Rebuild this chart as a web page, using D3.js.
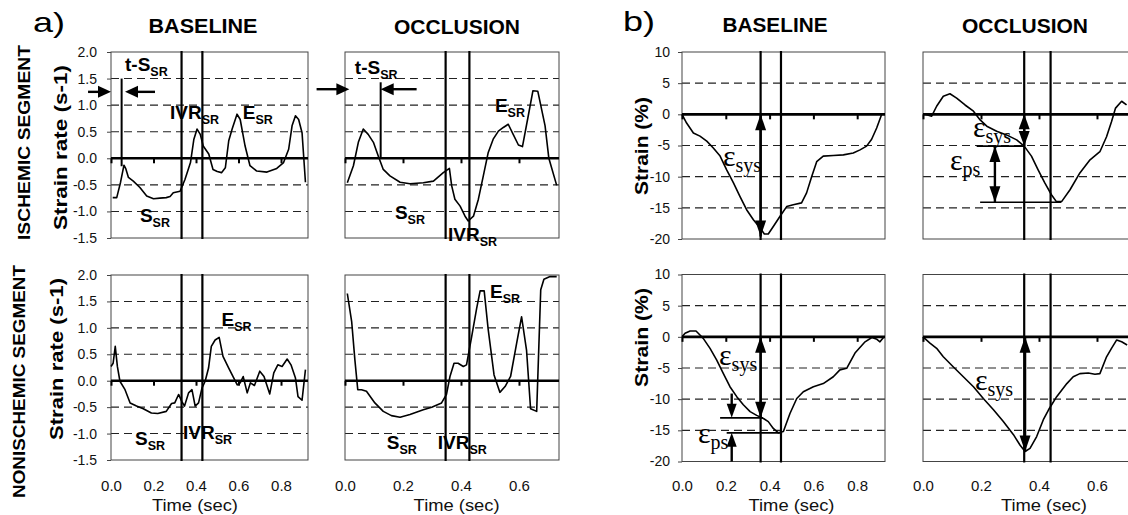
<!DOCTYPE html>
<html>
<head>
<meta charset="utf-8">
<script src="https://cdn.jsdelivr.net/npm/d3@7"></script>
<style>
  body { margin: 0; background: #fff; }
  svg { display: block; font-family: "Liberation Sans", Arial, sans-serif; }
</style>
</head>
<body>
<svg id="fig" width="1128" height="515"></svg>
<script>
// ---- data: [time (s), value] ----
// a) strain rate (s-1)
const aIschBase = [[0.008,-0.74],[0.027,-0.74],[0.045,-0.45],[0.061,-0.13],[0.07,-0.2],[0.082,-0.36],[0.105,-0.43],[0.136,-0.55],[0.168,-0.71],[0.2,-0.76],[0.23,-0.75],[0.26,-0.74],[0.278,-0.72],[0.293,-0.65],[0.325,-0.62],[0.348,-0.40],[0.374,-0.08],[0.39,0.36],[0.405,0.55],[0.42,0.45],[0.434,0.23],[0.46,0.08],[0.48,-0.21],[0.5,-0.25],[0.52,-0.27],[0.538,-0.18],[0.554,0.33],[0.57,0.55],[0.593,0.83],[0.608,0.73],[0.631,0.23],[0.654,-0.14],[0.686,-0.24],[0.734,-0.26],[0.78,-0.19],[0.812,-0.08],[0.836,0.17],[0.852,0.61],[0.868,0.8],[0.883,0.73],[0.899,0.48],[0.915,-0.45]];
const aIschOccl = [[0.008,-0.46],[0.029,-0.14],[0.046,0.30],[0.063,0.55],[0.08,0.45],[0.098,0.30],[0.115,0.04],[0.132,-0.21],[0.155,-0.33],[0.19,-0.45],[0.224,-0.48],[0.27,-0.46],[0.305,-0.43],[0.339,-0.27],[0.36,-0.19],[0.368,-0.52],[0.379,-0.77],[0.397,-0.9],[0.414,-1.09],[0.425,-1.18],[0.443,-1.09],[0.46,-0.77],[0.477,-0.33],[0.494,0.11],[0.511,0.36],[0.529,0.51],[0.546,0.58],[0.563,0.64],[0.58,0.45],[0.598,0.25],[0.612,0.22],[0.632,0.80],[0.648,1.27],[0.665,1.26],[0.69,0.61],[0.703,0.0],[0.73,-0.51]];
const aNonBase = [[0,0.27],[0.01,0.33],[0.02,0.65],[0.03,0.27],[0.042,-0.01],[0.066,-0.17],[0.09,-0.42],[0.12,-0.48],[0.152,-0.53],[0.19,-0.61],[0.22,-0.62],[0.26,-0.58],[0.285,-0.43],[0.3,-0.42],[0.318,-0.26],[0.333,-0.39],[0.346,-0.48],[0.365,-0.23],[0.381,-0.17],[0.396,-0.48],[0.412,-0.42],[0.428,-0.14],[0.443,-0.01],[0.459,0.24],[0.472,0.65],[0.49,0.77],[0.509,0.82],[0.527,0.46],[0.554,0.24],[0.578,0.05],[0.594,-0.08],[0.608,-0.04],[0.622,0.08],[0.641,-0.23],[0.656,-0.04],[0.675,-0.09],[0.7,0.18],[0.72,0.08],[0.747,-0.25],[0.766,0.15],[0.785,0.30],[0.805,0.27],[0.829,0.41],[0.847,0.30],[0.868,0.05],[0.88,-0.30],[0.899,-0.37],[0.915,0.21]];
const aNonOccl = [[0.008,1.65],[0.023,1.12],[0.034,0.40],[0.044,-0.17],[0.057,-0.17],[0.074,-0.2],[0.103,-0.42],[0.132,-0.58],[0.16,-0.66],[0.19,-0.69],[0.224,-0.64],[0.27,-0.55],[0.299,-0.5],[0.333,-0.42],[0.35,-0.26],[0.362,0.08],[0.376,0.33],[0.39,0.33],[0.408,0.27],[0.419,0.30],[0.437,0.84],[0.454,1.37],[0.466,1.70],[0.48,1.70],[0.494,0.96],[0.514,0.11],[0.534,-0.22],[0.552,-0.11],[0.571,0.08],[0.592,0.71],[0.609,1.21],[0.626,0.58],[0.64,-0.53],[0.661,-0.58],[0.675,1.72],[0.686,1.92],[0.707,1.97],[0.73,1.97]];

// b) strain (%)
const bIschBase = [[0,0],[0.021,-1.4],[0.052,-3.0],[0.082,-3.5],[0.113,-4.3],[0.143,-5.4],[0.174,-6.7],[0.204,-8.9],[0.235,-11.0],[0.265,-13.2],[0.295,-15.3],[0.326,-16.9],[0.356,-18.2],[0.376,-19.2],[0.394,-19.2],[0.417,-18.0],[0.447,-16.4],[0.478,-14.8],[0.508,-14.5],[0.546,-14.2],[0.569,-12.6],[0.592,-10.0],[0.615,-7.6],[0.645,-6.7],[0.691,-6.6],[0.737,-6.5],[0.782,-6.2],[0.813,-5.7],[0.843,-5.1],[0.866,-4.0],[0.889,-2.2],[0.912,0]];
const bIschOccl = [[0.007,0],[0.03,-0.3],[0.047,1.3],[0.07,2.9],[0.093,3.3],[0.116,2.6],[0.145,1.5],[0.174,0.5],[0.197,-0.9],[0.22,-1.9],[0.254,-2.7],[0.288,-3.3],[0.323,-4.1],[0.349,-5.1],[0.374,-6.7],[0.397,-8.9],[0.42,-11.0],[0.443,-12.9],[0.46,-14.0],[0.478,-14.0],[0.507,-12.1],[0.541,-9.4],[0.576,-7.3],[0.61,-6.0],[0.633,-3.6],[0.65,-1.2],[0.664,1.0],[0.685,2.1],[0.702,1.5]];
const bNonBase = [[0,0],[0.014,0.56],[0.037,0.93],[0.064,0.93],[0.082,0.29],[0.097,-0.24],[0.128,-1.85],[0.158,-3.7],[0.189,-5.9],[0.219,-8.0],[0.25,-9.6],[0.28,-10.9],[0.311,-12.0],[0.341,-12.6],[0.372,-13.1],[0.394,-13.6],[0.417,-14.7],[0.44,-15.4],[0.463,-15.2],[0.493,-12.3],[0.524,-9.9],[0.554,-8.8],[0.6,-8.0],[0.645,-7.5],[0.691,-6.4],[0.721,-5.3],[0.752,-5.05],[0.79,-2.6],[0.836,-0.8],[0.867,-0.1],[0.89,-0.4],[0.904,-0.8],[0.92,-0.1]];
const bNonOccl = [[0,0],[0.024,-1.0],[0.047,-1.85],[0.07,-3.2],[0.104,-4.8],[0.139,-6.4],[0.174,-8.0],[0.208,-9.9],[0.243,-11.7],[0.277,-13.6],[0.312,-15.7],[0.335,-17.4],[0.352,-18.4],[0.369,-17.9],[0.392,-16.0],[0.415,-13.3],[0.433,-11.7],[0.461,-9.6],[0.496,-7.5],[0.518,-6.4],[0.541,-5.9],[0.57,-5.8],[0.593,-6.0],[0.61,-5.9],[0.633,-3.2],[0.65,-1.85],[0.668,-0.5],[0.685,-0.8],[0.704,-1.3]];

// event markers (s)
const aBaseMarks = [0.332, 0.43];
const aOcclMarks = [0.347, 0.429];
const bBaseMarks = [0.359, 0.452];
const bOcclMarks = [0.349, 0.44];

// ticks
const rateTicks = [-1.5, -1.0, -0.5, 0, 0.5, 1.0, 1.5, 2.0];
const strainTicks = [-20, -15, -10, -5, 0, 5, 10];
const baseTimeTicks = [0, 0.2, 0.4, 0.6, 0.8];
const occlTimeTicks = [0, 0.2, 0.4, 0.6];

// annotations: [main, sub, t, value]
const aIschBaseLabels = [['t-S','SR',0.066,1.64],['IVR','SR',0.278,0.73],['E','SR',0.62,0.73],['S','SR',0.136,-1.2]];
const aIschOcclLabels = [['t-S','SR',0.034,1.58],['E','SR',0.517,0.88],['S','SR',0.172,-1.15],['IVR','SR',0.355,-1.56]];
const aNonBaseLabels = [['E','SR',0.52,1.04],['S','SR',0.113,-1.21],['IVR','SR',0.339,-1.11]];
const aNonOcclLabels = [['E','SR',0.5,1.57],['S','SR',0.144,-1.3],['IVR','SR',0.32,-1.3]];
const bIschBaseLabels = [['ε','sys',0.187,-8.25]];
const bIschOcclLabels = [['ε','sys',0.172,-3.6],['ε','ps',0.093,-8.9]];
const bNonBaseLabels = [['ε','sys',0.169,-4.5],['ε','ps',0.073,-17.0]];
const bNonOcclLabels = [['ε','sys',0.179,-8.5]];

const svg = d3.select('#fig');
svg.append('rect').attr('width', 1128).attr('height', 515).attr('fill', '#fff');

function drawPanel(p) {
  const x = d3.scaleLinear().domain([0, p.tmax]).range([p.left, p.right]);
  const y = d3.scaleLinear().domain(p.yDom).range([p.bottom, p.top]);
  const g = svg.append('g');

  // dashed gridlines
  g.selectAll('line.grid')
    .data(p.yTicks.filter(d => d !== 0 && d !== p.yDom[0] && d !== p.yDom[1]))
    .join('line')
    .attr('x1', p.left).attr('x2', p.right)
    .attr('y1', d => y(d)).attr('y2', d => y(d))
    .attr('stroke', '#222').attr('stroke-width', 1.1)
    .attr('stroke-dasharray', '8,5');

  // frame
  g.append('rect')
    .attr('x', p.left).attr('y', p.top)
    .attr('width', p.right - p.left).attr('height', p.bottom - p.top)
    .attr('fill', 'none').attr('stroke', '#444').attr('stroke-width', 1);

  // y axis with labels on the left panels
  if (p.yLabels) {
    const ax = g.append('g')
      .attr('transform', `translate(${p.left},0)`)
      .call(d3.axisLeft(y).tickValues(p.yTicks).tickSize(4).tickPadding(p.yPad)
        .tickFormat(p.yFormat));
    ax.select('.domain').remove();
    ax.selectAll('text').attr('font-size', 14).attr('font-family', '"Liberation Sans", Arial, sans-serif').attr('fill', '#111');
    ax.selectAll('line').attr('stroke', '#444');
  }

  // zero line and its ticks
  const zx = g.append('g')
    .attr('transform', `translate(0,${y(0)})`)
    .call(d3.axisBottom(x).tickValues(p.xTicks).tickSize(5).tickFormat(''));
  zx.select('.domain').remove();
  zx.selectAll('line').attr('stroke', '#000').attr('stroke-width', 2);
  g.append('line')
    .attr('x1', p.left).attr('x2', p.right)
    .attr('y1', y(0)).attr('y2', y(0))
    .attr('stroke', '#000').attr('stroke-width', 2.6);

  // time axis labels on the bottom row
  if (p.xLabels) {
    const bx = g.append('g')
      .attr('transform', `translate(0,${p.bottom})`)
      .call(d3.axisBottom(x).tickValues(p.xTicks).tickSize(0).tickPadding(480.4 - p.bottom)
        .tickFormat(d => d.toFixed(1)));
    bx.select('.domain').remove();
    bx.selectAll('text').attr('font-size', 15).attr('font-family', '"Liberation Sans", Arial, sans-serif').attr('fill', '#111');
    g.append('text')
      .attr('x', x(p.timeLabelT)).attr('y', 511)
      .attr('text-anchor', 'middle').attr('font-size', 17).attr('fill', '#111')
      .attr('textLength', 86).attr('lengthAdjust', 'spacingAndGlyphs')
      .text('Time (sec)');
  }

  // event markers
  g.selectAll('line.mark').data(p.marks).join('line')
    .attr('x1', d => x(d)).attr('x2', d => x(d))
    .attr('y1', p.top - 1).attr('y2', p.bottom + 1)
    .attr('stroke', '#000').attr('stroke-width', 2.2);

  // curve
  g.append('path')
    .datum(p.data)
    .attr('d', d3.line().x(d => x(d[0])).y(d => y(d[1])))
    .attr('fill', 'none').attr('stroke', '#000').attr('stroke-width', 1.6)
    .attr('stroke-linejoin', 'round');

  return { x, y, g };
}

function head(g, tx, ty, dx, dy, len, wid) {
  const bx = tx - dx * len, by = ty - dy * len;
  const px = -dy * wid / 2, py = dx * wid / 2;
  g.append('path')
    .attr('d', `M${tx},${ty}L${bx + px},${by + py}L${bx - px},${by - py}Z`)
    .attr('fill', '#000');
}

function arrow(g, x1, y1, x2, y2, len, wid) {
  const L = Math.hypot(x2 - x1, y2 - y1);
  const dx = (x2 - x1) / L, dy = (y2 - y1) / L;
  g.append('line').attr('x1', x1).attr('y1', y1).attr('x2', x2 - dx * len * 0.5).attr('y2', y2 - dy * len * 0.5)
    .attr('stroke', '#000').attr('stroke-width', 2.4);
  head(g, x2, y2, dx, dy, len, wid);
}

function doubleArrow(g, x, y1, y2, len, wid) {
  g.append('line').attr('x1', x).attr('x2', x).attr('y1', y1).attr('y2', y2)
    .attr('stroke', '#000').attr('stroke-width', 2.4);
  head(g, x, y1, 0, -1, len, wid);
  head(g, x, y2, 0, 1, len, wid);
}

function hline(g, x1, x2, y) {
  g.append('line').attr('x1', x1).attr('x2', x2).attr('y1', y).attr('y2', y)
    .attr('stroke', '#000').attr('stroke-width', 1.6);
}

function rateLabels(P, labels) {
  labels.forEach(([m, s, t, v]) => {
    const tx = P.g.append('text')
      .attr('x', P.x(t)).attr('y', P.y(v))
      .attr('font-weight', 'bold').attr('font-size', 19).attr('fill', '#000');
    tx.append('tspan').text(m);
    tx.append('tspan').attr('font-size', 12.5).attr('dy', 5).text(s);
  });
}

function epsLabels(P, labels) {
  labels.forEach(([m, s, t, v]) => {
    const tx = P.g.append('text')
      .attr('x', P.x(t)).attr('y', P.y(v))
      .attr('font-family', '"Liberation Serif", "Times New Roman", serif')
      .attr('font-size', 30).attr('fill', '#000');
    tx.append('tspan').text(m);
    tx.append('tspan').attr('font-size', 20).attr('dy', 6).text(s);
  });
}

const rateFmt = d => d.toFixed(1);
const strainFmt = d => String(d);

// ---- panel a ----
const A1 = drawPanel({ data: aIschBase, marks: aBaseMarks, left: 111, right: 308, top: 52, bottom: 238,
  tmax: 0.927, yDom: [-1.5, 2], yTicks: rateTicks, xTicks: baseTimeTicks, yLabels: true, yPad: 10, yFormat: rateFmt });
const A2 = drawPanel({ data: aIschOccl, marks: aOcclMarks, left: 345, right: 559, top: 52, bottom: 238,
  tmax: 0.738, yDom: [-1.5, 2], yTicks: rateTicks, xTicks: occlTimeTicks });
const A3 = drawPanel({ data: aNonBase, marks: aBaseMarks, left: 111, right: 308, top: 275, bottom: 460,
  tmax: 0.927, yDom: [-1.5, 2], yTicks: rateTicks, xTicks: baseTimeTicks, yLabels: true, yPad: 10, yFormat: rateFmt,
  xLabels: true, timeLabelT: 0.395 });
const A4 = drawPanel({ data: aNonOccl, marks: aOcclMarks, left: 345, right: 559, top: 275, bottom: 460,
  tmax: 0.738, yDom: [-1.5, 2], yTicks: rateTicks, xTicks: occlTimeTicks, xLabels: true, timeLabelT: 0.385 });

// t-S markers
[[A1, 0.05, 1.5, -0.15, [[-0.108, 0.0], [0.207, 0.066]], 1.25],
 [A2, 0.123, 1.43, 0, [[-0.098, 0.015], [0.247, 0.123]], 1.3]].forEach(([P, t, v1, v2, arrs, av]) => {
  P.g.append('line').attr('x1', P.x(t)).attr('x2', P.x(t)).attr('y1', P.y(v1)).attr('y2', P.y(v2))
    .attr('stroke', '#000').attr('stroke-width', 2);
  arrs.forEach(([a, b]) => arrow(P.g, P.x(a), P.y(av), P.x(b), P.y(av), 13, 12));
});
rateLabels(A1, aIschBaseLabels);
rateLabels(A2, aIschOcclLabels);
rateLabels(A3, aNonBaseLabels);
rateLabels(A4, aNonOcclLabels);

// ---- panel b ----
const B1 = drawPanel({ data: bIschBase, marks: bBaseMarks, left: 682, right: 885, top: 52, bottom: 239,
  tmax: 0.927, yDom: [-20, 10], yTicks: strainTicks, xTicks: baseTimeTicks, yLabels: true, yPad: 8, yFormat: strainFmt });
const B2 = drawPanel({ data: bIschOccl, marks: bOcclMarks, left: 923, right: 1137, top: 52, bottom: 239,
  tmax: 0.738, yDom: [-20, 10], yTicks: strainTicks, xTicks: occlTimeTicks });
const B3 = drawPanel({ data: bNonBase, marks: bBaseMarks, left: 682, right: 885, top: 274.5, bottom: 461.5,
  tmax: 0.927, yDom: [-20, 10], yTicks: strainTicks, xTicks: baseTimeTicks, yLabels: true, yPad: 8, yFormat: strainFmt,
  xLabels: true, timeLabelT: 0.5 });
const B4 = drawPanel({ data: bNonOccl, marks: bOcclMarks, left: 923, right: 1137, top: 274.5, bottom: 461.5,
  tmax: 0.738, yDom: [-20, 10], yTicks: strainTicks, xTicks: occlTimeTicks, xLabels: true, timeLabelT: 0.417 });

// strain annotations
doubleArrow(B1.g, B1.x(0.359), B1.y(0), B1.y(-19.6), 16, 11);

hline(B2.g, B2.x(0.185), B2.x(0.349), B2.y(-5.1));
hline(B2.g, B2.x(0.197), B2.x(0.476), B2.y(-14.1));
doubleArrow(B2.g, B2.x(0.349), B2.y(0), B2.y(-5.1), 15, 11);
doubleArrow(B2.g, B2.x(0.248), B2.y(-5.1), B2.y(-14.1), 16, 11);

hline(B3.g, B3.x(0.174), B3.x(0.37), B3.y(-13.0));
hline(B3.g, B3.x(0.204), B3.x(0.457), B3.y(-15.4));
doubleArrow(B3.g, B3.x(0.359), B3.y(0), B3.y(-13.0), 16, 11);
arrow(B3.g, B3.x(0.227), B3.y(-9.1), B3.x(0.227), B3.y(-13.0), 14, 10);
arrow(B3.g, B3.x(0.227), B3.y(-20), B3.x(0.227), B3.y(-15.4), 14, 10);

doubleArrow(B4.g, B4.x(0.352), B4.y(0), B4.y(-18.4), 16, 11);

epsLabels(B1, bIschBaseLabels);
epsLabels(B2, bIschOcclLabels);
epsLabels(B3, bNonBaseLabels);
epsLabels(B4, bNonOcclLabels);

// ---- headings and axis titles ----
const bold = (x, y, txt, size, len) => svg.append('text')
  .attr('x', x).attr('y', y).attr('text-anchor', 'middle')
  .attr('font-weight', 'bold').attr('font-size', size)
  .attr('textLength', len).attr('lengthAdjust', 'spacingAndGlyphs')
  .text(txt);

bold(203, 33, 'BASELINE', 20, 109);
bold(457, 34, 'OCCLUSION', 20, 126);
bold(775, 32, 'BASELINE', 20, 105);
bold(1025, 33, 'OCCLUSION', 20, 126);

svg.append('text').attr('x', 33).attr('y', 32).attr('font-size', 28)
  .attr('textLength', 32).attr('lengthAdjust', 'spacingAndGlyphs').text('a)');
svg.append('text').attr('x', 623).attr('y', 31).attr('font-size', 28)
  .attr('textLength', 32).attr('lengthAdjust', 'spacingAndGlyphs').text('b)');

const vert = (x, y, txt, size, len) => svg.append('text')
  .attr('transform', `translate(${x},${y}) rotate(-90)`)
  .attr('text-anchor', 'middle').attr('font-weight', 'bold').attr('font-size', size)
  .attr('textLength', len).attr('lengthAdjust', 'spacingAndGlyphs')
  .text(txt);

vert(30, 142.5, 'ISCHEMIC SEGMENT', 16.5, 195);
vert(25, 381.5, 'NONISCHEMIC SEGMENT', 16.5, 233);
vert(67, 147.5, 'Strain rate (s-1)', 19, 165);
vert(63, 359, 'Strain rate (s-1)', 19, 162);
vert(648, 146, 'Strain (%)', 18, 98);
vert(648, 337.5, 'Strain (%)', 18, 99);
</script>
</body>
</html>
